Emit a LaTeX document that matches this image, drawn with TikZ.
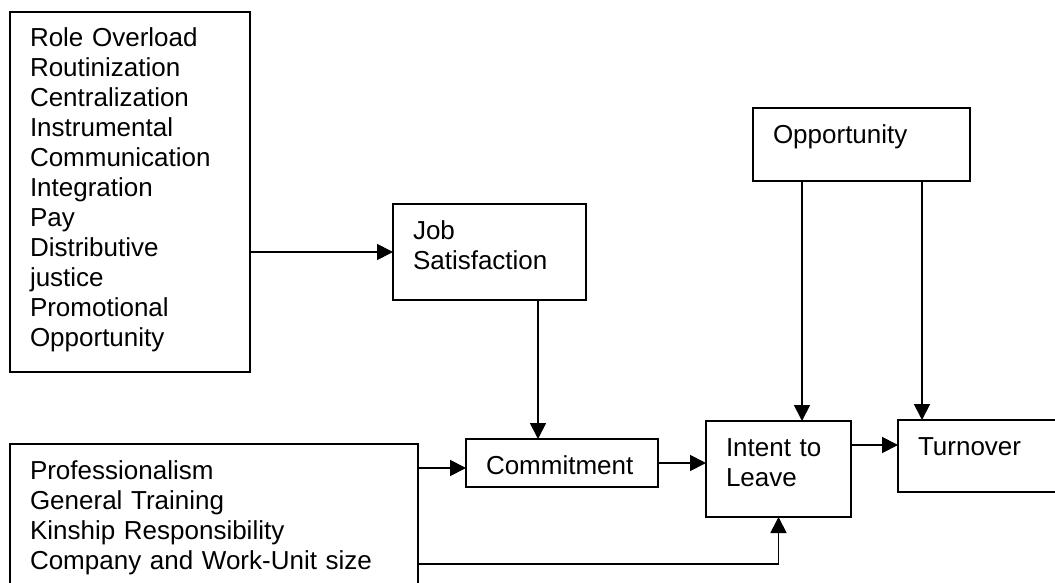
\documentclass[tikz,border=0pt]{standalone}
\usepackage{fontspec}
\setmainfont{Liberation Sans}
\usepackage{tikz}
\usetikzlibrary{arrows.meta,positioning}
\tikzset{
  factorbox/.style={draw,line width=1pt,anchor=north west,align=left,
                    inner xsep=10pt,inner ysep=0pt,outer sep=0pt,text height=17.5pt,
                    font=\fontsize{13}{15}\selectfont},
  link/.style={-{Triangle[length=8pt,width=8pt]},line width=0.9pt}
}

\begin{document}
\begin{tikzpicture}[x=0.5pt,y=-0.5pt]
  \useasboundingbox (0,0) rectangle (1055,583);
  \clip (0,0) rectangle (1055,583);

  \node[factorbox,text width=100pt,text depth=162.5pt] (antec) at (10,12)
    {Role Overload\\Routinization\\Centralization\\Instrumental\\Communication\\Integration\\Pay\\Distributive\\justice\\Promotional\\Opportunity};
  \node[factorbox,text width=76.5pt,text depth=30.5pt] (jobsat) at (393,204) {Job\\Satisfaction};
  \node[factorbox,text width=88.5pt,text depth=19pt] (opport) at (753,108) {Opportunity};
  \node[factorbox,text width=76pt,text depth=6.5pt] (commit) at (466,439) {Commitment};
  \node[factorbox,text width=52.5pt,text depth=30.5pt] (intent) at (706,421) {Intent to\\Leave};
  \node[factorbox,text width=61pt,text depth=18.5pt] (turnover) at (898,420) {Turnover};
  \node[factorbox,text width=184pt,text depth=60.5pt] (indiv) at (10,444)
    {Professionalism\\General Training\\Kinship Responsibility\\Company and Work-Unit size};

  \draw[link] (antec.east |- jobsat.west) -- (jobsat.west);
  \draw[link] ([xshift=24.25pt]jobsat.south) -- ([xshift=24.25pt]jobsat.south |- commit.north);
  \draw[link] ([yshift=-2.5pt]indiv.east |- commit.west) -- ([yshift=-2.5pt]commit.west);
  \draw[link] (commit.east) -- (commit.east -| intent.west);
  \draw[link] ([yshift=-60pt]indiv.north east) -| (intent.south);
  \draw[link] ([xshift=-29.75pt]opport.south) -- ([xshift=-29.75pt]opport.south |- intent.north);
  \draw[link] ([xshift=30.25pt]opport.south) -- ([xshift=30.25pt]opport.south |- turnover.north);
  \draw[link] ([yshift=-12pt]intent.north east) -- ([yshift=-12pt]intent.north east -| turnover.west);
\end{tikzpicture}
\end{document}
